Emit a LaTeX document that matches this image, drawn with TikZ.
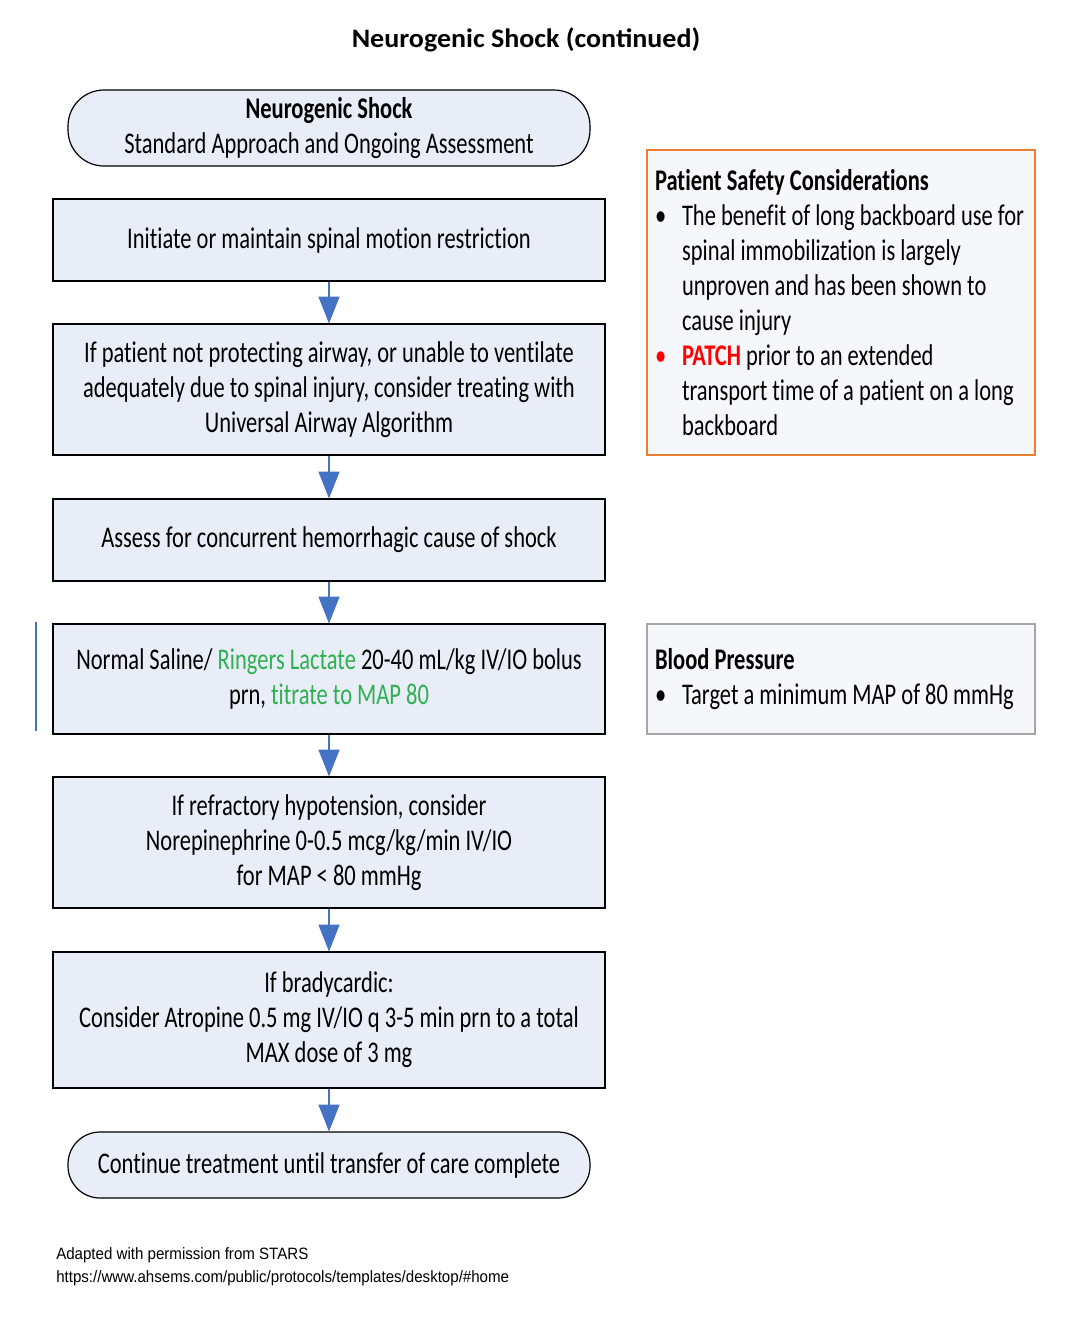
\documentclass[tikz,border=0pt]{standalone}
\usepackage{fontspec}
\setmainfont{Carlito}
\newfontfamily\bxf[FakeStretch=0.75,Ligatures=NoCommon]{Carlito}
\newfontfamily\ttlf[FakeStretch=1.05]{Carlito}
\newfontfamily\ftf[FakeStretch=0.92]{Liberation Sans}
\usetikzlibrary{arrows.meta}
\definecolor{boxfill}{HTML}{E9EDF7}
\definecolor{sidefill}{HTML}{F5F7FB}
\definecolor{arrowblue}{HTML}{4472C4}
\definecolor{txtgreen}{HTML}{2DB04F}
\definecolor{txtred}{HTML}{FF0000}
\definecolor{orangeline}{HTML}{ED7D31}
\definecolor{grayline}{HTML}{A6A6A6}
\newcommand{\bul}[1][black]{\makebox[20.25pt][l]{\textcolor{#1}{•}}}
\newcommand{\ind}{\hspace*{20.25pt}}
\begin{document}
\begin{tikzpicture}[x=0.75pt,y=-0.75pt,
  boxtext/.style={font=\bxf\fontsize{22.5}{26.25}\selectfont},
  mainbox/.style={boxtext, draw=black, line width=0.9pt, fill=boxfill, minimum width=414pt, align=center, inner sep=0pt},
  termbox/.style={mainbox, minimum width=391.5pt},
  sidebox/.style={boxtext, line width=0.9pt, fill=sidefill, text width=279pt, inner xsep=6pt, inner ysep=0pt, align=flush left},
  arr/.style={draw=arrowblue, line width=0.8pt, -{Triangle[width=15.75pt,length=20pt]}, arrowblue}
]
\useasboundingbox (0,0) rectangle (1088,1340);

\node[font=\ttlf\bfseries\fontsize{20}{24}\selectfont] (title) at (526,40) {Neurogenic Shock (continued)};

\node[termbox, minimum height=57pt, rounded corners=27pt] (t1) at (329,128) {\textbf{Neurogenic Shock}\\Standard Approach and Ongoing Assessment};

\node[mainbox, minimum height=61.5pt] (b1) at (329,240) {Initiate or maintain spinal motion restriction};
\node[mainbox, minimum height=98.25pt] (b2) at (329,389.5) {If patient not protecting airway, or unable to ventilate\\adequately due to spinal injury, consider treating with\\Universal Airway Algorithm};
\node[mainbox, minimum height=61.5pt] (b3) at (329,540) {Assess for concurrent hemorrhagic cause of shock};
\node[mainbox, minimum height=82.5pt] (b4) at (329,679) {Normal Saline/ \textcolor{txtgreen}{Ringers Lactate} 20-40 mL/kg IV/IO bolus\\prn, \textcolor{txtgreen}{titrate to MAP 80}};
\node[mainbox, minimum height=98.25pt] (b5) at (329,842.5) {If refractory hypotension, consider\\Norepinephrine 0-0.5 mcg/kg/min IV/IO\\for MAP < 80 mmHg};
\node[mainbox, minimum height=102pt] (b6) at (329,1020) {If bradycardic:\\Consider Atropine 0.5 mg IV/IO q 3-5 min prn to a total\\MAX dose of 3 mg};
\node[termbox, minimum height=49.5pt, rounded corners=24pt] (t2) at (329,1165) {Continue treatment until transfer of care complete};

\draw[arr] (b1.south) -- (b2.north);
\draw[arr] (b2.south) -- (b3.north);
\draw[arr] (b3.south) -- (b4.north);
\draw[arr] (b4.south) -- (b5.north);
\draw[arr] (b5.south) -- (b6.north);
\draw[arr] (b6.south) -- (t2.north);

\node[sidebox, draw=orangeline, minimum height=228.75pt] (s1) at (841,302.5) {\textbf{Patient Safety Considerations}\\
\bul The benefit of long backboard use for\\
\ind spinal immobilization is largely\\
\ind unproven and has been shown to\\
\ind cause injury\\
\bul[txtred]\textcolor{txtred}{\textbf{PATCH}} prior to an extended\\
\ind transport time of a patient on a long\\
\ind backboard};

\node[sidebox, draw=grayline, minimum height=82.5pt] (s2) at (841,679) {\textbf{Blood Pressure}\\
\bul Target a minimum MAP of 80 mmHg};

\coordinate (m1) at (36,622);
\coordinate (m2) at (36,731);
\draw[arrowblue, line width=0.8pt] (m1) -- (m2);

\node[font=\ftf\fontsize{12.3}{17.25}\selectfont, align=left, anchor=west, inner sep=0pt] (foot) at (56,1266.5) {Adapted with permission from STARS\\https://www.ahsems.com/public/protocols/templates/desktop/\#home};
\end{tikzpicture}
\end{document}
